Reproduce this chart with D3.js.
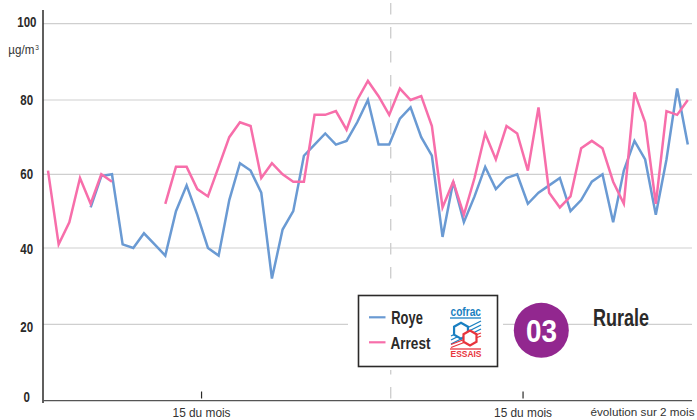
<!DOCTYPE html>
<html><head><meta charset="utf-8">
<script src="https://cdn.jsdelivr.net/npm/d3@7"></script>
<style>html,body{margin:0;padding:0;background:#fff}svg{display:block}
text{font-family:"Liberation Sans",sans-serif}</style></head>
<body><svg id="c" width="697" height="420"></svg>
<script>
const yTicks=[0,20,40,60,80,100];
const royeValues=[null,null,null,null,51,59.5,60,41,40,44,41,38,50,57,49,40,38,53,63,61,55,32,45,50,65,68,71,68,69,74,80,68,68,75,78,70,65,43,58,47,54,62,56,59,60,52,55,57,59,50,53,58,60,47,61,69,64,49,64,83,68];
const arrestValues=[61,41,47,59,52,60,58,null,null,null,null,52,62,62,56,54,62,70,74,73,59,63,60,58,58,76,76,77,72,80,85,81,76,83,80,81,73,51,58,49,59,71,64,73,71,61,78,55,51,54,67,69,67,58,52,82,74,52,77,76,80];
const midTicks=[{i:14.4,label:"15 du mois"},{i:44.55,label:"15 du mois"}];
const legendItems=[{name:"Roye",color:"#6a9ad3"},{name:"Arrest",color:"#f76eaa"}];
const svg=d3.select("#c");
const x=d3.scaleLinear().domain([0,60]).range([48,687.8]);
const y=d3.scaleLinear().domain(yTicks).range([400.7,324.3,248,174.3,100,23.7]);
const ink="#2b2a29";
// text squeezed to a measured width, standing in for the condensed face
function label(g,px,py,str,size,width,opts={}){
 return g.append("text").attr("x",px).attr("y",py).attr("font-size",size)
  .attr("font-weight",opts.weight||400).attr("fill",opts.fill||ink)
  .attr("textLength",width).attr("lengthAdjust","spacingAndGlyphs").text(str);
}
svg.append("g").selectAll("line").data(yTicks.slice(1)).join("line")
 .attr("x1",43).attr("x2",692).attr("y1",d=>y(d)).attr("y2",d=>y(d))
 .attr("stroke","#cfcfcf").attr("stroke-width",1.2);
svg.append("line").attr("x1",390.7).attr("x2",390.7).attr("y1",3).attr("y2",399)
 .attr("stroke","#cfcfcf").attr("stroke-width",1.4).attr("stroke-dasharray","11.5 12.5");
const line=d3.line().defined(d=>d!=null).x((d,i)=>x(i)).y(d=>y(d));
svg.append("path").attr("d",line(royeValues)).attr("fill","none").attr("stroke",legendItems[0].color).attr("stroke-width",2.5);
svg.append("path").attr("d",line(arrestValues)).attr("fill","none").attr("stroke",legendItems[1].color).attr("stroke-width",2.5);
svg.append("line").attr("x1",43).attr("x2",43).attr("y1",10).attr("y2",403).attr("stroke",ink).attr("stroke-width",1.5);
svg.append("line").attr("x1",43).attr("x2",692).attr("y1",400.7).attr("y2",400.7).attr("stroke","#555").attr("stroke-width",1.3);
svg.append("g").selectAll("line").data(midTicks).join("line")
 .attr("x1",d=>x(d.i)).attr("x2",d=>x(d.i)).attr("y1",391.5).attr("y2",398.5).attr("stroke",ink).attr("stroke-width",1.2);
midTicks.forEach(d=>label(svg,x(d.i)-29,417,d.label,13,58,{fill:"#333"}));
label(svg,590.5,415.5,"évolution sur 2 mois",11.6,104,{fill:"#333"});
const tickLeft={0:23.5,20:20.3,40:20.3,60:20.3,80:20.3,100:17.3};
const tickBase={0:401.7,20:332,40:254,60:179,80:105,100:27};
yTicks.forEach(d=>label(svg,tickLeft[d],tickBase[d],String(d),14,String(d).length*6.4,{weight:700}));
label(svg,8.3,53.5,"µg/m",12,26,{fill:"#333"});
svg.append("text").attr("x",35.2).attr("y",50).attr("font-size",6.5).attr("fill","#333").text("3");
// legend
svg.append("rect").attr("x",348).attr("y",290).attr("width",155).attr("height",80).attr("fill","#fff");
svg.append("rect").attr("x",358.5).attr("y",295.5).attr("width",139).attr("height",71).attr("fill","#fff").attr("stroke",ink).attr("stroke-width",1.6);
legendItems.forEach((d,i)=>{
 const ly=[317.3,342.3][i];
 svg.append("line").attr("x1",369).attr("x2",385.5).attr("y1",ly).attr("y2",ly).attr("stroke",d.color).attr("stroke-width",2.2);
});
label(svg,391.3,324.3,legendItems[0].name,18,31.5,{weight:700});
label(svg,390.5,348.7,legendItems[1].name,17,40,{weight:700});
// logo
const blue="#1a7fc1",red="#e8343c";
label(svg,450.5,315.7,"cofrac",13,30.5,{weight:700,fill:blue});
label(svg,450.5,357.3,"ESSAIS",9.5,31,{weight:700,fill:red});
const hex=(cx,cy,r)=>d3.range(6).map(k=>{const a=Math.PI/6+k*Math.PI/3;return [cx+r*Math.cos(a),cy+r*Math.sin(a)].join(",")}).join(" ");
const seg=(a,b,c,d,col,w)=>svg.append("line").attr("x1",a).attr("y1",b).attr("x2",c).attr("y2",d).attr("stroke",col).attr("stroke-width",w||1.3);
seg(450,318,481,318,blue);
seg(451,336,481,321,blue);seg(451,340,481,325,blue);seg(451,344,481,329,blue);
seg(451,344.5,481,333,red);seg(451,347.5,481,336,red);
seg(450,349,481,349,red);
svg.append("polygon").attr("points",hex(461,330.7,8)).attr("fill","#fff").attr("stroke",blue).attr("stroke-width",2.2);
svg.append("polygon").attr("points",hex(470,338,7.5)).attr("fill","#fff").attr("stroke",red).attr("stroke-width",2.2);
// badge
svg.append("circle").attr("cx",541.3).attr("cy",330.3).attr("r",27.5).attr("fill","#92278f");
label(svg,526,341.7,"03",31,31,{weight:700,fill:"#fff"});
label(svg,593,325.7,"Rurale",23.5,56,{weight:700});
</script></body></html>
